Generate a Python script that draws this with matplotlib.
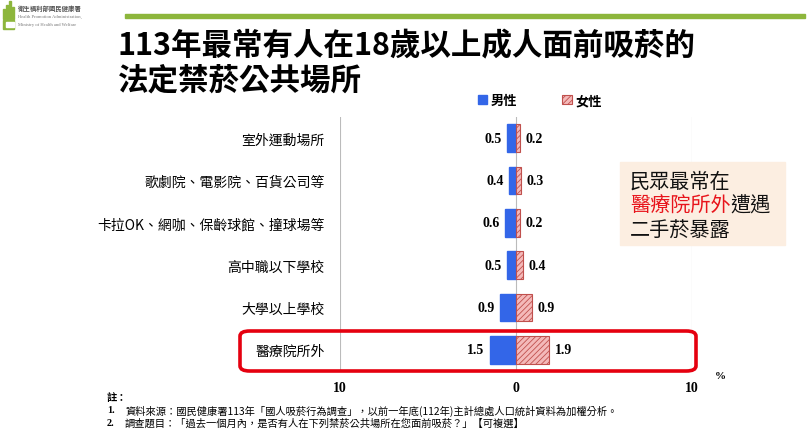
import matplotlib
matplotlib.use("Agg")
import matplotlib.pyplot as plt
from matplotlib.patches import Rectangle, FancyBboxPatch
import numpy as np

plt.rcParams['font.family'] = ['Noto Sans CJK TC', 'DejaVu Sans']
plt.rcParams['hatch.linewidth'] = 0.6

# === 資料 ===
places = ['室外運動場所', '歌劇院、電影院、百貨公司等', '卡拉OK、網咖、保齡球館、撞球場等',
          '高中職以下學校', '大學以上學校', '醫療院所外']
male = [0.5, 0.4, 0.6, 0.5, 0.9, 1.5]
female = [0.2, 0.3, 0.2, 0.4, 0.9, 1.9]
x_ticks = [-10, 0, 10]
x_tick_labels = ['10', '0', '10']

W, H = 810, 431
fig = plt.figure(figsize=(W / 100, H / 100), dpi=100)


def fx(px):
    return px / W


def fy(py):
    return 1 - py / H


# ---- 頁首: 標誌與綠線 ----
green = '#8DB63C'
for hx, hh in [(3, 10), (6, 14), (9, 18), (12, 12)]:
    fig.patches.append(Rectangle((fx(hx), fy(20)), fx(2), hh / H, color=green,
                                 transform=fig.transFigure))
fig.patches.append(Rectangle((fx(3), fy(30)), fx(11), 9 / H, color=green,
                             transform=fig.transFigure))
fig.patches.append(Rectangle((fx(6), fy(28)), fx(8), 5 / H, color='white',
                             transform=fig.transFigure))
fig.text(fx(18), fy(8), '衛生福利部國民健康署', fontsize=4.6, color='#555555',
         va='center', fontweight='bold')
fig.text(fx(18), fy(17), 'Health Promotion Administration,', fontsize=3.3,
         color='#777777', va='center', family='Liberation Serif')
fig.text(fx(18), fy(25), 'Ministry of Health and Welfare', fontsize=3.3,
         color='#777777', va='center', family='Liberation Serif')
fig.patches.append(Rectangle((fx(125), fy(19)), fx(680), 4 / H, color=green,
                             transform=fig.transFigure))

# ---- 標題 ----
fig.text(fx(118), fy(46), '113年最常有人在18歲以上成人面前吸菸的', fontsize=22,
         fontweight='bold', va='center', color='black')
fig.text(fx(118), fy(81), '法定禁菸公共場所', fontsize=22,
         fontweight='bold', va='center', color='black')

# ---- 主圖 ----
ax = fig.add_axes([fx(340), fy(372), fx(692 - 340), (372 - 118) / H])
y = np.arange(len(places))
bar_h = 0.66
b_m = ax.barh(y, [-v for v in male], height=bar_h, color='#3366E8',
              edgecolor='#3366E8', label='男性', zorder=3)
b_f = ax.barh(y, female, height=bar_h, color='#F4B9B9', edgecolor='#C0504D',
              hatch='//////', linewidth=0.8, label='女性', zorder=3)

num_font = dict(family='Liberation Serif', fontweight='bold', fontsize=10)
for yi, m, f in zip(y, male, female):
    ax.annotate(f'{m:.1f}', (-m, yi), xytext=(-4, 0), textcoords='offset points',
                ha='right', va='center', **num_font)
    ax.annotate(f'{f:.1f}', (f, yi), xytext=(4, 0), textcoords='offset points',
                ha='left', va='center', **num_font)

ax.set_xlim(-10, 10)
ax.set_ylim(len(places) - 0.5, -0.5)
ax.set_xticks(x_ticks)
ax.set_xticklabels(x_tick_labels, **num_font)
ax.set_yticks(y)
ax.set_yticklabels(places, fontsize=10)
ax.tick_params(axis='both', length=0)
ax.tick_params(axis='y', pad=11)
ax.tick_params(axis='x', pad=7)
ax.grid(True, axis='x', color='#BBBBBB', linewidth=0.8, zorder=0)
for s in ax.spines.values():
    s.set_visible(False)
ax.set_facecolor('none')

fig.text(fx(720), fy(377), '%', ha='center', va='center',
         family='Liberation Serif', fontweight='bold', fontsize=8)

# 圖例
fig.legend(handles=[b_m, b_f], labels=['男性', '女性'], loc='center left',
           bbox_to_anchor=(fx(466), fy(101)), ncol=2, frameon=False,
           handlelength=0.7, handleheight=0.7, handletextpad=0.3,
           columnspacing=3.4, prop=dict(size=9.5, weight='bold'))

# 醫療院所外 紅框
fig.patches.append(FancyBboxPatch((fx(240), fy(372)), fx(456), 40 / H,
                                  boxstyle='round,pad=0,rounding_size=0.012',
                                  transform=fig.transFigure, fill=False,
                                  edgecolor='#E5000F', linewidth=2.6, zorder=5))

# 說明框
fig.patches.append(Rectangle((fx(620), fy(246)), fx(165), 83 / H,
                             color='#FCEEE1', transform=fig.transFigure, zorder=1))
fs = 14.5
em = fs * 100 / 72
tx = 630
fig.text(fx(tx), fy(182), '民眾最常在', fontsize=fs, va='center', color='#111111')
fig.text(fx(tx), fy(206), '醫療院所外', fontsize=fs, va='center', color='#E8141B')
fig.text(fx(tx + 5 * em), fy(206), '遭遇', fontsize=fs, va='center', color='#111111')
fig.text(fx(tx), fy(231), '二手菸暴露', fontsize=fs, va='center', color='#111111')

# ---- 註 ----
nfs = 7.4
fig.text(fx(107), fy(398), '註：', fontsize=nfs, va='center', fontweight='bold')
fig.text(fx(107), fy(411), '1.', fontsize=nfs, va='center', fontweight='bold',
         family='Liberation Serif')
fig.text(fx(125), fy(411),
         '資料來源：國民健康署113年「國人吸菸行為調查」，以前一年底(112年)主計總處人口統計資料為加權分析。',
         fontsize=nfs, va='center')
fig.text(fx(107), fy(424), '2.', fontsize=nfs, va='center', fontweight='bold',
         family='Liberation Serif')
fig.text(fx(125), fy(424),
         '調查題目：「過去一個月內，是否有人在下列禁菸公共場所在您面前吸菸？」【可複選】',
         fontsize=nfs, va='center')

fig.savefig('out.png', dpi=100)
